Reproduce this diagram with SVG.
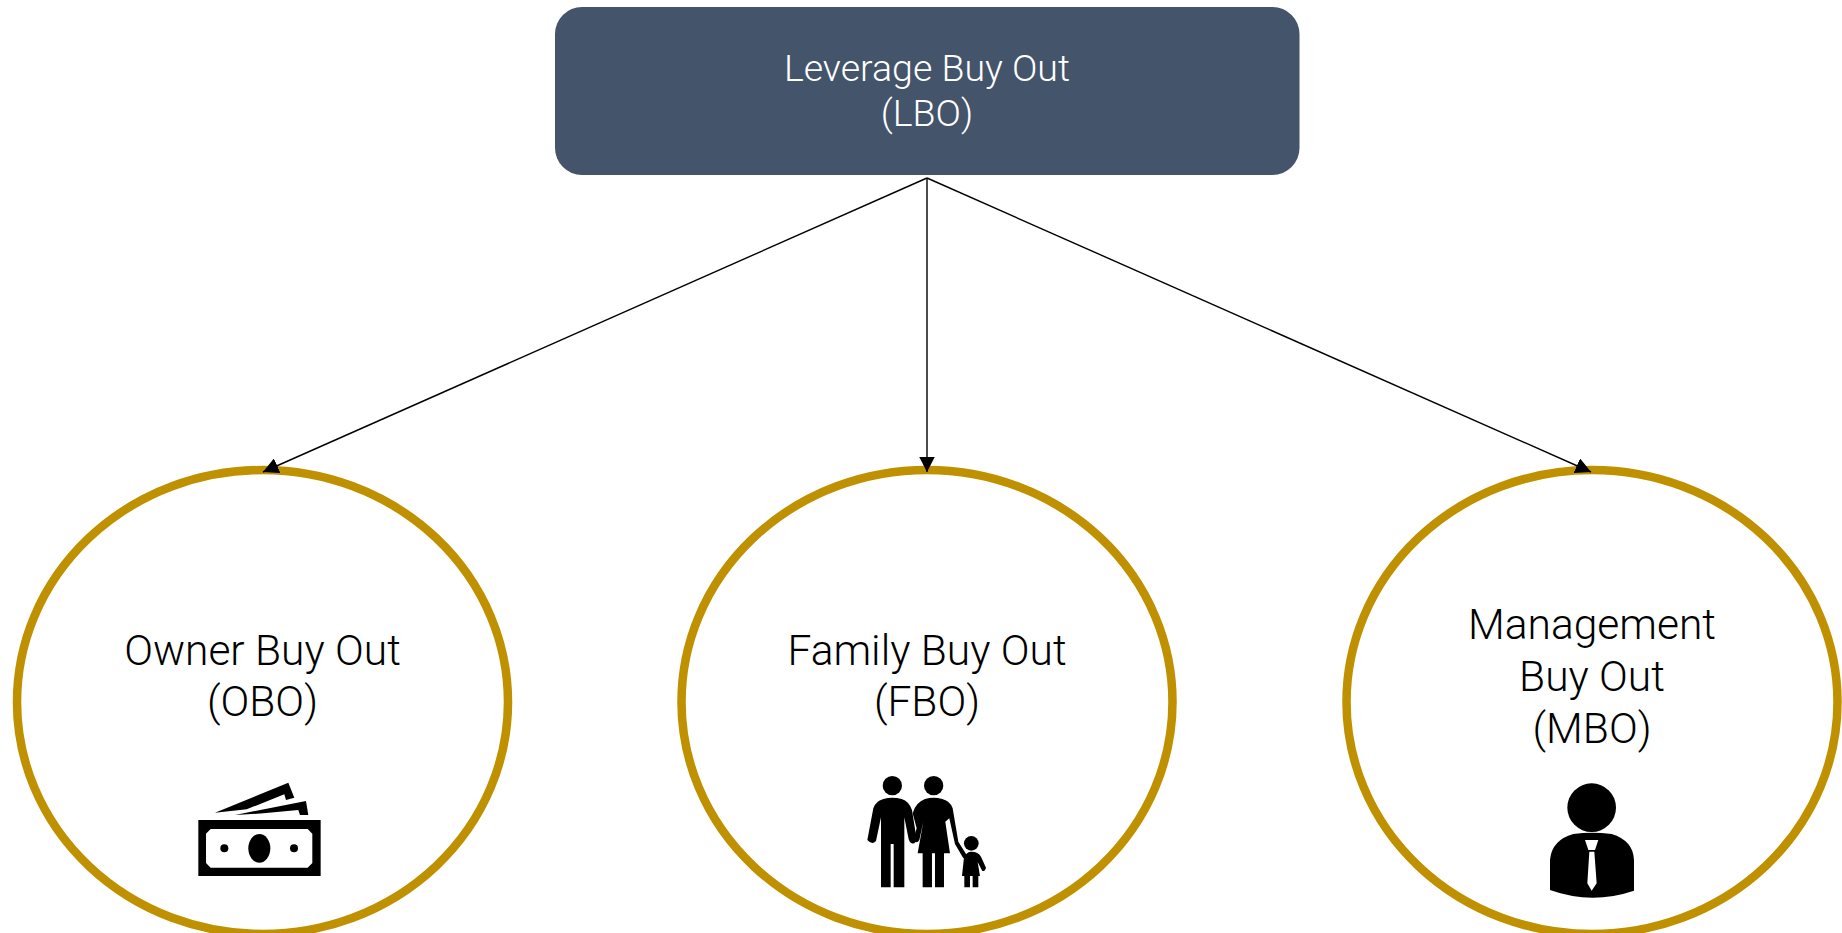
<svg xmlns="http://www.w3.org/2000/svg" width="1842" height="933" viewBox="0 0 1842 933">
<style>
text{font-family:Roboto,"Liberation Sans",sans-serif;font-weight:300;font-size:42.5px;text-anchor:middle;fill:#000}
.w{fill:#fff;font-size:37.5px}
.c{fill:#fff;stroke:#bf9000;stroke-width:8.500}
.l{stroke:#000;stroke-width:1.4;fill:none;marker-end:url(#a)}
</style>
<defs><marker id="a" markerUnits="userSpaceOnUse" markerWidth="16" markerHeight="16" refX="15.5" refY="8" orient="auto"><path d="M0,0L15.5,8L0,16Z" fill="#000"/></marker></defs>
<rect width="1842" height="933" fill="#fff"/>
<g id="lbo"><rect x="555" y="7" width="744.500" height="168" rx="27" fill="#44546a"/>
<text class="w" x="927" y="81">Leverage Buy Out</text><text class="w" x="927" y="126">(LBO)</text></g>
<g id="obo"><ellipse class="c" cx="262.500" cy="702" rx="245.500" ry="232"/>
<text x="262.500" y="665">Owner Buy Out</text><text x="262.500" y="716">(OBO)</text>
<g transform="translate(180,760) scale(.3333)"><path fill-rule="evenodd" d="M55,180H422V348H55ZM92,207L78,221V309L92,323H383L397,309V221L383,207Z"/><ellipse cx="238" cy="265" rx="33" ry="43"/><circle cx="133" cy="265" r="12"/><circle cx="342" cy="265" r="12"/><path d="M105,158L325,68L343,113L318,120L313,103L200,148ZM165,165L378,123L385,165L360,165L355,150L250,160Z"/></g></g>
<g id="fbo"><ellipse class="c" cx="927" cy="702" rx="245.500" ry="232"/>
<text x="927" y="665">Family Buy Out</text><text x="927" y="716">(FBO)</text>
<g transform="translate(850,760) scale(.3333)"><circle cx="127" cy="77" r="29"/><circle cx="251" cy="77" r="29"/><circle cx="364" cy="250" r="22"/>
<path d="M70,145Q76,124 100,117Q127,110 155,117Q177,124 186,150L200,238Q196,254 185,250Q178,246 176,238L163,172V382H131V252H122V382H93V172L78,243Q66,256 52,240Z"/>
<path d="M188,160Q196,128 225,117Q251,110 277,117Q302,124 308,145L325,245L350,285L340,295L315,252L298,175L286,185L300,280H282V382H255V280H246V382H218V280H203L220,185L208,240Q200,254 190,240L200,205Z"/>
<path d="M342,292Q350,275 364,275Q385,275 393,290L408,323Q405,335 397,333L383,306L390,348H385V382H368V348H360V382H343V348H336Z"/></g></g>
<g id="mbo"><ellipse class="c" cx="1592" cy="702" rx="245.500" ry="232"/>
<text x="1592" y="639">Management</text><text x="1592" y="691">Buy Out</text><text x="1592" y="743">(MBO)</text>
<g transform="translate(1530,770) scale(.3333)"><circle cx="185" cy="113" r="73"/><path d="M60,360V270Q65,210 130,192Q185,185 245,192Q310,212 312,270V362Q185,405 60,360Z"/><path fill="#fff" d="M165,210H205L195,240H175ZM178,245H193L200,340L185,362L172,340Z"/></g></g>
<g id="connectors"><line class="l" x1="927" y1="178" x2="263" y2="472"/><line class="l" x1="927" y1="178" x2="927" y2="472"/><line class="l" x1="927" y1="178" x2="1591" y2="472"/></g>
</svg>
